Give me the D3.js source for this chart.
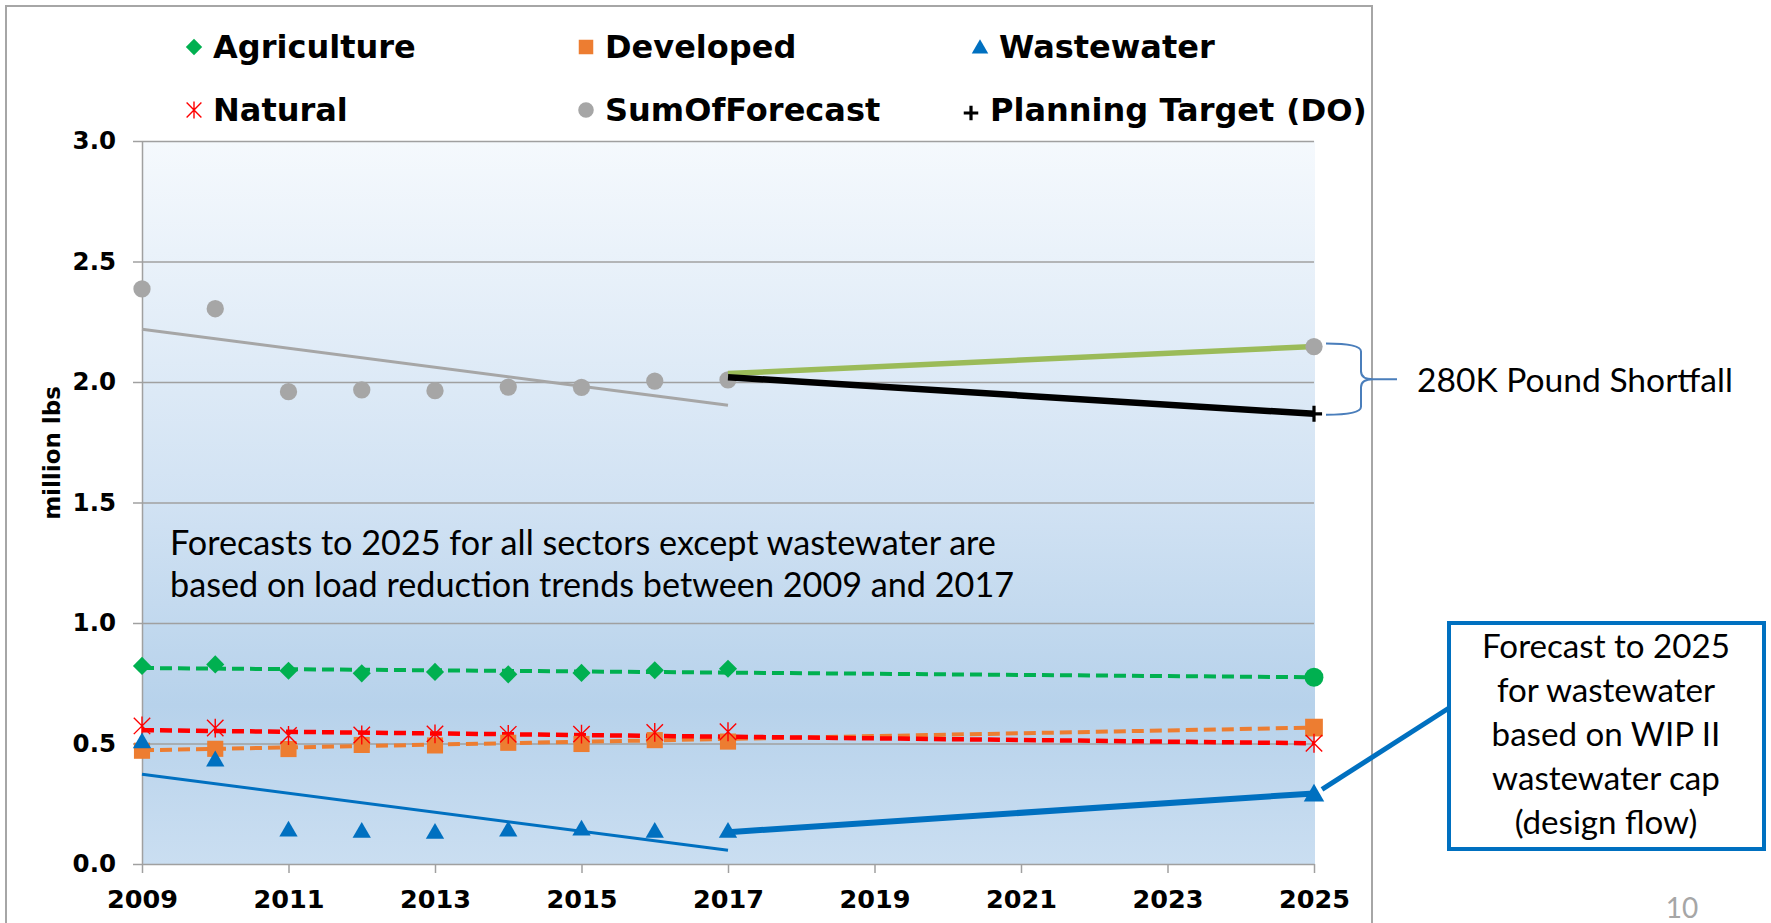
<!DOCTYPE html>
<meta charset="utf-8">
<style>

body { margin: 0; background: #fff; }

.legend text {
  font-family: "DejaVu Sans", Verdana, sans-serif;
  font-weight: bold;
  font-size: 32px;
}

.axis text {
  font-family: "DejaVu Sans", Verdana, sans-serif;
  font-weight: bold;
  fill: #000;
}

.axis path, .axis line,
.grid line {
  stroke: #a0a0a0;
  stroke-width: 1.5px;
}

.grid path { display: none; }

.note { font-family: Lato, "Open Sans", sans-serif; fill: #000; }

</style>
<svg width="1771" height="923"></svg>
<script src="https://d3js.org/d3.v7.min.js"></script>
<script>

// observed loads, million lbs
var years = [2009, 2010, 2011, 2012, 2013, 2014, 2015, 2016, 2017];
var agriculture   = [0.822, 0.828, 0.802, 0.791, 0.797, 0.787, 0.793, 0.804, 0.810];
var developed     = [0.470, 0.478, 0.477, 0.494, 0.492, 0.503, 0.498, 0.514, 0.508];
var natural       = [0.573, 0.564, 0.533, 0.535, 0.540, 0.538, 0.539, 0.546, 0.549];
var wastewater    = [0.510, 0.435, 0.144, 0.139, 0.135, 0.144, 0.148, 0.139, 0.139];
var sumOfForecast = [2.386, 2.304, 1.960, 1.967, 1.964, 1.979, 1.978, 2.004, 2.009];

// 2025 values: Agriculture, Developed, Natural, Wastewater, SumOfForecast, Planning Target
var forecastYear = 2025;
var forecast2025 = [0.775, 0.566, 0.501, 0.293, 2.147, 1.868];

// where the 2017 -> 2025 lines start: SumOfForecast, Planning Target, Wastewater
var bridgeStart = [2.035, 2.020, 0.132];

var yTicks = [0, 0.5, 1, 1.5, 2, 2.5, 3];
var xTicks = [2009, 2011, 2013, 2015, 2017, 2019, 2021, 2023, 2025];

var legendNames = ["Agriculture", "Developed", "Wastewater", "Natural", "SumOfForecast", "Planning Target"];

var svg = d3.select("svg");

var x = d3.scaleLinear().domain([2009, 2025]).range([142, 1314]),
    y = d3.scaleLinear().domain([0, 3]).range([864, 141]);

var line = d3.line()
    .x(function(d) { return x(d[0]); })
    .y(function(d) { return y(d[1]); });

// linear trend over the observed years
function trend(vals) {
  var mx = d3.mean(years), my = d3.mean(vals);
  var sxy = d3.sum(vals, function(v, i) { return (years[i] - mx) * (v - my); });
  var sxx = d3.sum(years, function(t) { return (t - mx) * (t - mx); });
  var b = sxy / sxx;
  return function(t) { return my + b * (t - mx); };
}

// excel style marker shapes
var star = {
  draw: function(ctx, size) {
    var r = Math.sqrt(size) / 2;
    ctx.moveTo(-r, -r); ctx.lineTo(r, r);
    ctx.moveTo(-r, r); ctx.lineTo(r, -r);
    ctx.moveTo(0, -r * 1.15); ctx.lineTo(0, r * 1.15);
  }
};
var plus = {
  draw: function(ctx, size) {
    var r = Math.sqrt(size) / 2;
    ctx.moveTo(-r, 0); ctx.lineTo(r, 0);
    ctx.moveTo(0, -r); ctx.lineTo(0, r);
  }
};

var styles = {
  agriculture: { type: d3.symbolSquare, size: 165, rot: 45, fill: "#00b050" },
  developed:   { type: d3.symbolSquare, size: 260, fill: "#ed7d31" },
  wastewater:  { type: d3.symbolTriangle, size: 145, dy: 2, fill: "#0070c0" },
  natural:     { type: star, size: 270, stroke: "#ff0000", width: 1.4 },
  sum:         { type: d3.symbolCircle, size: 235, fill: "#a6a6a6" },
  target:      { type: plus, size: 260, stroke: "#000", width: 3.2 }
};

function marker(g, st, cx, cy, scale) {
  var k = scale || 1;
  g.append("path")
    .attr("d", d3.symbol().type(st.type).size(st.size * k * k)())
    .attr("transform", "translate(" + cx + "," + (cy + (st.dy || 0) * k) + ") rotate(" + (st.rot || 0) + ")")
    .style("fill", st.fill || "none")
    .style("stroke", st.stroke || "none")
    .style("stroke-width", st.width || 0);
}

// outer chart frame
svg.append("rect")
    .attr("x", 6).attr("y", 6)
    .attr("width", 1366).attr("height", 960)
    .style("fill", "none")
    .style("stroke", "#a6a6a6")
    .style("stroke-width", 2);

// plot background
var grad = svg.append("defs").append("linearGradient")
    .attr("id", "bg").attr("x1", 0).attr("y1", 0).attr("x2", 0).attr("y2", 1);
grad.append("stop").attr("offset", "0%").attr("stop-color", "#f5f9fd");
grad.append("stop").attr("offset", "50%").attr("stop-color", "#d1e2f3");
grad.append("stop").attr("offset", "78%").attr("stop-color", "#b7d2eb");
grad.append("stop").attr("offset", "100%").attr("stop-color", "#cadef1");

svg.append("rect")
    .attr("x", x(2009)).attr("y", y(3))
    .attr("width", x(2025) - x(2009) + 1)
    .attr("height", y(0) - y(3))
    .style("fill", "url(#bg)");

svg.append("g")
    .attr("class", "grid")
    .attr("transform", "translate(" + x(2009) + ",0)")
    .call(d3.axisLeft(y).tickValues(yTicks.slice(1)).tickSize(-(x(2025) - x(2009))).tickFormat(""));

svg.append("g")
    .attr("class", "axis")
    .attr("transform", "translate(" + x(2009) + ",0)")
    .call(d3.axisLeft(y).tickValues(yTicks).tickFormat(d3.format(".1f")).tickSize(9).tickSizeOuter(0).tickPadding(17))
    .selectAll("text").style("font-size", "24.5px");

svg.append("g")
    .attr("class", "axis")
    .attr("transform", "translate(0," + y(0) + ")")
    .call(d3.axisBottom(x).tickValues(xTicks).tickFormat(d3.format("d")).tickSize(9).tickSizeOuter(0).tickPadding(17))
    .selectAll("text").style("font-size", "25.5px");

svg.append("text")
    .attr("class", "axis")
    .attr("transform", "translate(60,453) rotate(-90)")
    .attr("text-anchor", "middle")
    .style("font-family", "DejaVu Sans, Verdana, sans-serif")
    .style("font-weight", "bold")
    .style("font-size", "23px")
    .text("million lbs");

// trend lines
var plot = svg.append("g");

var dashed = [
  [agriculture, forecast2025[0], "#00b050", 4],
  [developed, forecast2025[1], "#ed7d31", 4],
  [natural, forecast2025[2], "#ff0000", 4.5]
];
dashed.forEach(function(s) {
  var f = trend(s[0]);
  plot.append("path")
      .attr("d", line([[2009, f(2009)], [forecastYear, s[1]]]))
      .style("fill", "none")
      .style("stroke", s[2])
      .style("stroke-width", s[3])
      .style("stroke-dasharray", "12,6");
});

[[sumOfForecast, "#a6a6a6"], [wastewater, "#0070c0"]].forEach(function(s) {
  var f = trend(s[0]);
  plot.append("path")
      .attr("d", line([[2009, f(2009)], [2017, f(2017)]]))
      .style("fill", "none")
      .style("stroke", s[1])
      .style("stroke-width", 3);
});

// observed markers
[[sumOfForecast, styles.sum], [agriculture, styles.agriculture], [developed, styles.developed],
 [natural, styles.natural], [wastewater, styles.wastewater]].forEach(function(s) {
  s[0].forEach(function(v, i) { marker(plot, s[1], x(years[i]), y(v)); });
});

// 2017 -> 2025 lines
[[bridgeStart[0], forecast2025[4], "#9bbb59", 5.5],
 [bridgeStart[1], forecast2025[5], "#000", 6.5],
 [bridgeStart[2], forecast2025[3], "#0070c0", 6]].forEach(function(s) {
  plot.append("path")
      .attr("d", line([[2017, s[0]], [forecastYear, s[1]]]))
      .style("fill", "none")
      .style("stroke", s[2])
      .style("stroke-width", s[3]);
});

// 2025 markers
var fx = x(forecastYear);
marker(plot, { type: d3.symbolCircle, size: 280, fill: "#00b050" }, fx, y(forecast2025[0]));
marker(plot, styles.developed, fx, y(forecast2025[1]), 1.1);
marker(plot, styles.natural, fx, y(forecast2025[2]));
marker(plot, styles.wastewater, fx, y(forecast2025[3]), 1.12);
marker(plot, styles.sum, fx, y(forecast2025[4]));
marker(plot, styles.target, fx, y(forecast2025[5]));

// legend
var legendStyles = [styles.agriculture, styles.developed, styles.wastewater, styles.natural, styles.sum, styles.target];
var colX = [194, 586, 980], rowY = [47, 110];
var legend = svg.append("g").attr("class", "legend");
legendNames.forEach(function(name, i) {
  var mx = colX[i % 3] - (i === 5 ? 9 : 0),
      my = rowY[Math.floor(i / 3)] + (i === 5 ? 3 : 0);
  marker(legend, legendStyles[i], mx, my, 0.9);
  var t = legend.append("text")
      .attr("x", mx + 19)
      .attr("y", rowY[Math.floor(i / 3)] + 11)
      .text(name);
  if (i === 5) t.append("tspan").attr("dx", 12).style("font-size", "31px").text("(DO)");
});

// annotations
function fitText(sel, width) {
  var w = sel.node().getComputedTextLength();
  var fs = parseFloat(sel.style("font-size"));
  return fs * width / w;
}

var n1 = svg.append("text").attr("class", "note").attr("x", 170).attr("y", 555)
    .style("font-size", "32px").text("Forecasts to 2025 for all sectors except wastewater are");
var n2 = svg.append("text").attr("class", "note").attr("x", 170).attr("y", 597)
    .style("font-size", "32px").text("based on load reduction trends between 2009 and 2017");
var fs1 = fitText(n1, 826);
n1.style("font-size", fs1 + "px");
n2.style("font-size", fs1 + "px");

// shortfall brace
var bt = y(forecast2025[4]) - 3, bb = y(forecast2025[5]) + 1, bm = (bt + bb) / 2,
    x0 = fx + 12, x1 = fx + 47, xt = fx + 83;
svg.append("path")
    .attr("d", "M" + x0 + "," + bt + " Q" + x1 + "," + bt + " " + x1 + "," + (bt + 8) +
               " L" + x1 + "," + (bm - 8) + " Q" + x1 + "," + bm + " " + (x1 + 12) + "," + bm +
               " L" + xt + "," + bm +
               " M" + (x1 + 12) + "," + bm + " Q" + x1 + "," + bm + " " + x1 + "," + (bm + 8) +
               " L" + x1 + "," + (bb - 8) + " Q" + x1 + "," + bb + " " + x0 + "," + bb)
    .style("fill", "none")
    .style("stroke", "#4a7ebb")
    .style("stroke-width", 2);

var sf = svg.append("text").attr("class", "note").attr("x", 1417).attr("y", 392)
    .style("font-size", "36px").text("280K Pound Shortfall");
sf.style("font-size", fitText(sf, 316) + "px");

// wastewater callout
svg.append("line")
    .attr("x1", fx + 8).attr("y1", y(forecast2025[3]) - 4)
    .attr("x2", 1449).attr("y2", 708)
    .style("stroke", "#0070c0")
    .style("stroke-width", 5);

svg.append("rect")
    .attr("x", 1449).attr("y", 623)
    .attr("width", 315).attr("height", 226)
    .style("fill", "#fff")
    .style("stroke", "#0070c0")
    .style("stroke-width", 4);

var callout = ["Forecast to 2025", "for wastewater", "based on WIP II", "wastewater cap", "(design flow)"];
var ct = svg.append("g").selectAll("text")
  .data(callout)
  .enter().append("text")
    .attr("class", "note")
    .attr("x", 1606)
    .attr("y", function(d, i) { return 658 + i * 44; })
    .attr("text-anchor", "middle")
    .style("font-size", "36px")
    .text(function(d) { return d; });
var cfs = fitText(d3.select(ct.nodes()[0]), 248);
ct.style("font-size", cfs + "px");

svg.append("text")
    .attr("class", "note")
    .attr("x", 1682).attr("y", 918)
    .attr("text-anchor", "middle")
    .style("font-size", "28px")
    .style("fill", "#a6a6a6")
    .text("10");

</script>
